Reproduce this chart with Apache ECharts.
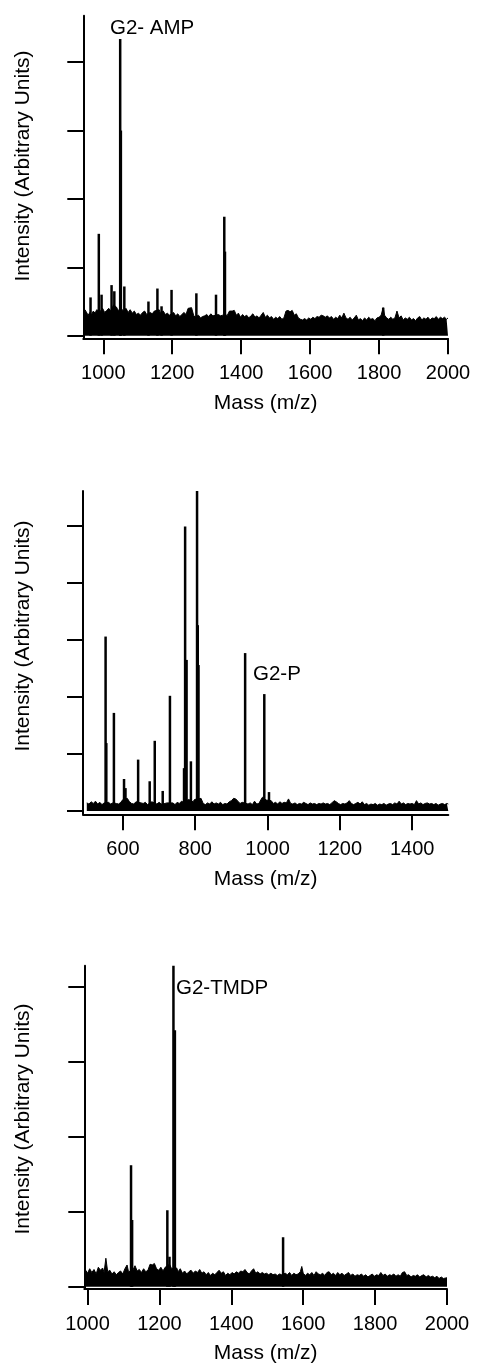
<!DOCTYPE html>
<html><head><meta charset="utf-8">
<script src="https://cdn.jsdelivr.net/npm/echarts@6/dist/echarts.min.js"></script>
<style>html,body{margin:0;padding:0;background:#fff}#c{width:477px;height:1368px}</style>
</head><body><div id="c"></div>
<script>
// ---------- Panel 1 : G2- AMP ----------
const noise1 = [[947,0.38],[952,0.40],[956,0.30],[961,0.34],[966,0.31],[971,0.36],[976,0.33],[981,0.38],[990,0.35],[998,0.40],
[1004,0.34],[1010,0.37],[1016,0.40],[1021,0.36],[1030,0.45],[1038,0.42],[1043,0.37],[1052,0.40],[1058,0.36],[1066,0.40],
[1072,0.34],[1078,0.38],[1084,0.33],[1090,0.36],[1096,0.31],[1102,0.33],[1108,0.30],[1114,0.34],[1120,0.36],[1126,0.31],
[1136,0.34],[1142,0.32],[1148,0.36],[1162,0.38],[1166,0.33],[1174,0.36],[1180,0.31],[1186,0.33],[1192,0.30],[1204,0.34],
[1210,0.29],[1216,0.32],[1222,0.28],[1228,0.31],[1234,0.34],[1240,0.31],[1246,0.40],[1256,0.41],[1262,0.30],[1266,0.27],
[1276,0.30],[1282,0.26],[1288,0.28],[1294,0.29],[1300,0.31],[1306,0.28],[1312,0.32],[1318,0.29],[1334,0.31],[1340,0.29],
[1346,0.30],[1360,0.30],[1366,0.36],[1374,0.36],[1380,0.37],[1386,0.30],[1392,0.33],[1398,0.27],[1404,0.31],[1410,0.28],
[1416,0.30],[1422,0.26],[1428,0.29],[1434,0.32],[1440,0.27],[1446,0.29],[1452,0.26],[1458,0.30],[1464,0.34],[1470,0.27],
[1476,0.30],[1482,0.26],[1488,0.28],[1494,0.24],[1500,0.27],[1506,0.25],[1512,0.28],[1518,0.24],[1524,0.26],[1530,0.36],
[1536,0.37],[1542,0.35],[1548,0.37],[1554,0.30],[1560,0.32],[1566,0.26],[1572,0.24],[1578,0.23],[1584,0.25],[1590,0.23],
[1596,0.26],[1602,0.24],[1608,0.27],[1614,0.25],[1620,0.28],[1626,0.27],[1632,0.30],[1638,0.29],[1644,0.27],[1650,0.29],
[1656,0.26],[1662,0.28],[1668,0.24],[1674,0.27],[1680,0.25],[1686,0.30],[1692,0.26],[1698,0.33],[1704,0.26],[1710,0.24],
[1716,0.27],[1722,0.23],[1728,0.26],[1734,0.30],[1740,0.23],[1746,0.25],[1752,0.22],[1758,0.26],[1764,0.23],[1770,0.27],
[1776,0.24],[1782,0.25],[1788,0.22],[1794,0.26],[1800,0.27],[1806,0.30],[1812,0.41],[1816,0.30],[1822,0.26],[1828,0.24],
[1834,0.27],[1840,0.24],[1846,0.26],[1852,0.36],[1858,0.26],[1864,0.29],[1870,0.23],[1876,0.26],[1882,0.24],[1888,0.27],
[1894,0.23],[1900,0.25],[1906,0.22],[1912,0.26],[1918,0.28],[1924,0.23],[1930,0.26],[1936,0.24],[1942,0.27],[1948,0.23],
[1954,0.26],[1960,0.25],[1966,0.28],[1972,0.24],[1978,0.27],[1984,0.25],[1990,0.27],[1996,0.24],[2000,0.26]];
const peaks1 = [[963,0.56],[987,1.49],[995,0.60],[1024,0.74],[1032,0.65],[1049,4.34],[1051,3.0],[1061,0.72],
[1131,0.50],[1157,0.69],[1169,0.43],[1198,0.67],[1270,0.62],[1327,0.60],[1351,1.74],[1353,1.23],[1812,0.41]];
const xTicks1 = [1000,1200,1400,1600,1800,2000];
const yTicks1 = [0,1,2,3,4];

// ---------- Panel 2 : G2-P ----------
const noise2 = [[500,0.14],[506,0.12],[512,0.16],[518,0.13],[524,0.17],[530,0.12],[536,0.15],[542,0.11],[548,0.14],[560,0.15],
[566,0.12],[572,0.14],[582,0.13],[588,0.12],[594,0.15],[600,0.20],[612,0.22],[618,0.16],[624,0.13],[630,0.12],
[636,0.16],[650,0.14],[656,0.13],[662,0.15],[668,0.11],[680,0.16],[694,0.12],[700,0.15],[706,0.12],[716,0.13],
[722,0.14],[738,0.14],[744,0.11],[750,0.15],[756,0.13],[762,0.17],[768,0.15],[782,0.20],[794,0.16],[798,0.20],
[816,0.22],[822,0.13],[828,0.11],[834,0.14],[840,0.12],[846,0.16],[852,0.12],[858,0.14],[864,0.12],[870,0.15],
[876,0.11],[882,0.13],[888,0.12],[894,0.16],[900,0.18],[906,0.22],[912,0.21],[918,0.17],[924,0.13],[930,0.15],
[946,0.12],[952,0.14],[958,0.11],[964,0.17],[970,0.12],[976,0.13],[982,0.20],[986,0.24],[996,0.19],[1000,0.22],
[1010,0.18],[1016,0.13],[1022,0.15],[1028,0.12],[1034,0.16],[1040,0.13],[1046,0.15],[1052,0.14],[1058,0.21],[1064,0.13],
[1070,0.12],[1076,0.14],[1082,0.11],[1088,0.13],[1094,0.12],[1100,0.15],[1106,0.13],[1112,0.11],[1118,0.14],[1124,0.12],
[1130,0.13],[1136,0.11],[1142,0.13],[1148,0.12],[1154,0.14],[1160,0.12],[1166,0.13],[1172,0.11],[1178,0.14],[1184,0.18],
[1190,0.16],[1196,0.13],[1202,0.11],[1208,0.13],[1214,0.12],[1220,0.14],[1226,0.18],[1232,0.13],[1238,0.11],[1244,0.13],
[1250,0.15],[1256,0.12],[1262,0.16],[1268,0.11],[1274,0.13],[1280,0.10],[1286,0.12],[1292,0.11],[1298,0.13],[1304,0.10],
[1310,0.12],[1316,0.11],[1322,0.13],[1328,0.10],[1334,0.12],[1340,0.13],[1346,0.11],[1352,0.14],[1358,0.12],[1364,0.17],
[1370,0.12],[1376,0.14],[1382,0.11],[1388,0.13],[1394,0.12],[1400,0.13],[1406,0.11],[1412,0.18],[1418,0.12],[1424,0.14],
[1430,0.11],[1436,0.13],[1442,0.14],[1448,0.12],[1454,0.13],[1460,0.11],[1466,0.13],[1472,0.10],[1478,0.12],[1484,0.13],
[1490,0.11],[1496,0.13],[1500,0.12]];
const peaks2 = [[552,3.06],[554,1.19],[575,1.72],[603,0.56],[607,0.40],[642,0.90],[674,0.52],[688,1.23],[710,0.35],
[730,2.02],[769,0.75],[772,4.99],[776,2.65],[788,0.87],[805,5.62],[807,3.26],[809,2.56],[938,2.77],[991,2.05],[1004,0.33]];
const xTicks2 = [600,800,1000,1200,1400];
const yTicks2 = [0,1,2,3,4,5];

// ---------- Panel 3 : G2-TMDP ----------
const noise3 = [[995,0.22],[1000,0.18],[1006,0.24],[1012,0.19],[1018,0.23],[1024,0.17],[1030,0.26],[1036,0.22],[1042,0.25],[1046,0.19],
[1051,0.38],[1056,0.20],[1062,0.22],[1068,0.17],[1074,0.20],[1080,0.16],[1086,0.19],[1092,0.21],[1098,0.17],[1104,0.24],
[1110,0.29],[1114,0.20],[1126,0.22],[1132,0.28],[1138,0.21],[1144,0.23],[1150,0.19],[1156,0.24],[1162,0.20],[1168,0.22],
[1174,0.30],[1180,0.29],[1186,0.31],[1192,0.24],[1198,0.22],[1204,0.26],[1210,0.21],[1216,0.26],[1228,0.30],[1234,0.24],
[1248,0.25],[1252,0.20],[1258,0.24],[1264,0.18],[1270,0.21],[1276,0.17],[1282,0.20],[1288,0.22],[1294,0.18],[1300,0.21],
[1306,0.19],[1312,0.23],[1318,0.18],[1324,0.20],[1330,0.16],[1336,0.19],[1342,0.15],[1348,0.18],[1354,0.16],[1360,0.19],
[1366,0.22],[1372,0.18],[1378,0.20],[1384,0.15],[1390,0.18],[1396,0.16],[1402,0.19],[1408,0.17],[1414,0.20],[1420,0.18],
[1426,0.21],[1432,0.20],[1438,0.23],[1444,0.19],[1450,0.17],[1456,0.21],[1462,0.24],[1468,0.18],[1474,0.20],[1480,0.17],
[1486,0.19],[1492,0.17],[1498,0.18],[1504,0.16],[1510,0.18],[1516,0.16],[1522,0.17],[1528,0.15],[1534,0.17],[1540,0.16],
[1550,0.18],[1556,0.16],[1562,0.19],[1568,0.15],[1574,0.18],[1580,0.16],[1586,0.17],[1592,0.20],[1596,0.27],[1600,0.18],
[1606,0.15],[1612,0.18],[1618,0.16],[1624,0.19],[1630,0.15],[1636,0.20],[1642,0.17],[1648,0.16],[1654,0.18],[1660,0.15],
[1666,0.19],[1672,0.20],[1678,0.16],[1684,0.18],[1690,0.15],[1696,0.19],[1702,0.16],[1708,0.18],[1714,0.15],[1720,0.17],
[1726,0.19],[1732,0.15],[1738,0.17],[1744,0.14],[1750,0.16],[1756,0.15],[1762,0.17],[1768,0.14],[1774,0.16],[1780,0.13],
[1786,0.15],[1792,0.17],[1798,0.14],[1804,0.16],[1810,0.15],[1816,0.19],[1822,0.15],[1828,0.17],[1834,0.14],[1840,0.16],
[1846,0.15],[1852,0.17],[1858,0.14],[1864,0.16],[1870,0.14],[1876,0.19],[1882,0.20],[1888,0.15],[1894,0.16],[1900,0.13],
[1906,0.15],[1912,0.14],[1918,0.16],[1924,0.13],[1930,0.15],[1936,0.16],[1942,0.13],[1948,0.15],[1954,0.13],[1960,0.14],
[1966,0.12],[1972,0.14],[1978,0.11],[1984,0.13],[1990,0.11],[2000,0.12]];
const peaks3 = [[1121,1.62],[1124,0.89],[1222,1.02],[1228,0.40],[1239,4.28],[1243,3.42],[1544,0.66]];
const xTicks3 = [1000,1200,1400,1600,1800,2000];
const yTicks3 = [0,1,2,3,4];

const labels = ['G2- AMP', 'G2-P', 'G2-TMDP'];
const xTitle = 'Mass (m/z)';
const yTitle = 'Intensity (Arbitrary Units)';

const FONT = '"Liberation Sans", Arial, Helvetica, sans-serif';
const BLACK = '#000';

const panels = [
  {grid:{left:83.3, top:15.7, width:364.7, height:322.6}, xmin:942, xmax:2000, ymin:-0.038, ymax:4.68, xt:xTicks1, yt:yTicks1, noise:noise1, peaks:peaks1},
  {grid:{left:83, top:491, width:365.3, height:323.3}, xmin:489.5, xmax:1500, ymin:-0.06, ymax:5.615, xt:xTicks2, yt:yTicks2, noise:noise2, peaks:peaks2},
  {grid:{left:84.3, top:965.7, width:362.7, height:323.3}, xmin:991, xmax:2000, ymin:-0.03, ymax:4.28, xt:xTicks3, yt:yTicks3, noise:noise3, peaks:peaks3}
];

const axisLineStyle = {color: BLACK, width: 2};
const option = {
  animation: false,
  backgroundColor: '#fff',
  grid: panels.map(p => p.grid),
  xAxis: panels.map((p, i) => ({
    gridIndex: i, type: 'value', min: p.xmin, max: p.xmax,
    axisLine: {show: true, onZero: false, lineStyle: axisLineStyle},
    axisTick: {show: true, customValues: p.xt, length: 16, lineStyle: axisLineStyle},
    axisLabel: {show: true, customValues: p.xt, formatter: v => String(v), color: BLACK, fontSize: 20, fontFamily: FONT, margin: 25},
    splitLine: {show: false},
    name: xTitle, nameLocation: 'middle', nameGap: 54,
    nameTextStyle: {color: BLACK, fontSize: 21, fontFamily: FONT}
  })),
  yAxis: panels.map((p, i) => ({
    gridIndex: i, type: 'value', min: p.ymin, max: p.ymax,
    axisLine: {show: true, onZero: false, lineStyle: axisLineStyle},
    axisTick: {show: true, customValues: p.yt, length: 16, lineStyle: axisLineStyle},
    axisLabel: {show: false},
    splitLine: {show: false}
  })),
  series: panels.flatMap((p, i) => [
    {type: 'line', xAxisIndex: i, yAxisIndex: i, data: p.noise, symbol: 'none', silent: true,
     lineStyle: {color: BLACK, width: 1}, areaStyle: {color: BLACK, opacity: 1}},
    {type: 'bar', xAxisIndex: i, yAxisIndex: i, data: p.peaks, barWidth: 2.5, silent: true,
     itemStyle: {color: BLACK}}
  ]),
  graphic: [
    {type:'text', x:23, y:166, rotation:Math.PI/2, style:{text:yTitle, font:'21px '+FONT, fill:BLACK, textAlign:'center', textVerticalAlign:'middle'}},
    {type:'text', x:23, y:636, rotation:Math.PI/2, style:{text:yTitle, font:'21px '+FONT, fill:BLACK, textAlign:'center', textVerticalAlign:'middle'}},
    {type:'text', x:23, y:1119, rotation:Math.PI/2, style:{text:yTitle, font:'21px '+FONT, fill:BLACK, textAlign:'center', textVerticalAlign:'middle'}},
    {type:'text', x:110, y:28, style:{text:labels[0], font:'20.5px '+FONT, fill:BLACK, textAlign:'left', textVerticalAlign:'middle'}},
    {type:'text', x:253, y:674, style:{text:labels[1], font:'20.5px '+FONT, fill:BLACK, textAlign:'left', textVerticalAlign:'middle'}},
    {type:'text', x:176, y:988, style:{text:labels[2], font:'20.5px '+FONT, fill:BLACK, textAlign:'left', textVerticalAlign:'middle'}}
  ]
};
const chart = echarts.init(document.getElementById('c'), null, {renderer: 'canvas'});
chart.setOption(option);
</script>
</body></html>
